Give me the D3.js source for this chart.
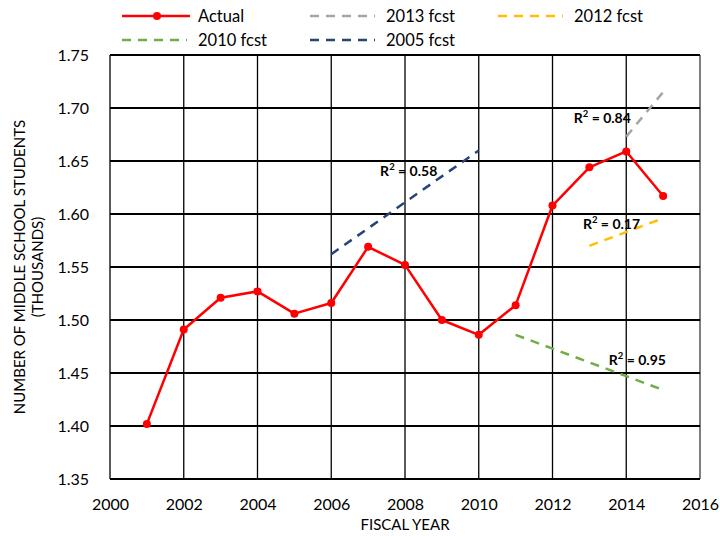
<!DOCTYPE html>
<html>
<head>
<meta charset="utf-8">
<script src="https://cdn.jsdelivr.net/npm/d3@7"></script>
<style>
html,body{margin:0;padding:0;background:#fff;}
svg{display:block;font-family:Lato,"Open Sans",sans-serif;}
</style>
</head>
<body>
<svg id="chart" width="720" height="536"></svg>
<script>
const years = [2001,2002,2003,2004,2005,2006,2007,2008,2009,2010,2011,2012,2013,2014,2015];
const actual = [1.402,1.491,1.521,1.527,1.506,1.516,1.569,1.552,1.500,1.486,1.514,1.608,1.644,1.659,1.617];
const fcst2013 = [[2014,1.673],[2015,1.715]];
const fcst2012 = [[2013,1.570],[2015,1.596]];
const fcst2010 = [[2011,1.486],[2015,1.434]];
const fcst2005 = [[2006,1.562],[2010,1.660]];
const xTicks = [2000,2002,2004,2006,2008,2010,2012,2014,2016];
const yTicks = [1.35,1.40,1.45,1.50,1.55,1.60,1.65,1.70,1.75];
const r2Labels = [
  {x:2013.35, y:1.686, v:"0.84"},
  {x:2013.6, y:1.586, v:"0.17"},
  {x:2014.3, y:1.458, v:"0.95"},
  {x:2008.1, y:1.636, v:"0.58"}
];
const legendItems = [
  {name:"Actual", color:"#FF0000", dash:null, marker:true},
  {name:"2013 fcst", color:"#A5A5A5", dash:"9,7"},
  {name:"2012 fcst", color:"#FFC000", dash:"9,7"},
  {name:"2010 fcst", color:"#70AD47", dash:"9,7"},
  {name:"2005 fcst", color:"#264478", dash:"9,7"}
];

const svg = d3.select("#chart");
const m = {left:110, right:20, top:55, bottom:57};
const W = 720, H = 536;
const x = d3.scaleLinear().domain([2000,2016]).range([m.left, W-m.right]);
const y = d3.scaleLinear().domain([1.35,1.75]).range([H-m.bottom, m.top]);

const g = svg.append("g");
// vertical grid
g.selectAll(".vg").data(xTicks).join("line")
  .attr("x1",d=>x(d)).attr("x2",d=>x(d)).attr("y1",y(1.35)).attr("y2",y(1.75))
  .attr("stroke",d=>d===2016?"#7f7f7f":"#000").attr("stroke-width",d=>d===2016?2:1.3);
// horizontal grid
g.selectAll(".hg").data(yTicks).join("line")
  .attr("x1",x(2000)).attr("x2",x(2016)).attr("y1",d=>y(d)).attr("y2",d=>y(d))
  .attr("stroke","#000").attr("stroke-width",2);

// axes labels
const xAxis = d3.axisBottom(x).tickValues(xTicks).tickFormat(d3.format("d")).tickSize(0).tickPadding(20);
const xg = svg.append("g").attr("transform",`translate(0,${y(1.35)})`).call(xAxis);
xg.select(".domain").remove();
xg.selectAll("text").attr("font-size",16).attr("fill","#000").attr("font-family","Lato,sans-serif");
const yAxis = d3.axisLeft(y).tickValues(yTicks).tickFormat(d3.format(".2f")).tickSize(0).tickPadding(21);
const yg = svg.append("g").attr("transform",`translate(${x(2000)},0)`).call(yAxis);
yg.select(".domain").remove();
yg.selectAll("text").attr("font-size",16).attr("fill","#000").attr("font-family","Lato,sans-serif");

svg.append("text").attr("x",(x(2000)+x(2016))/2).attr("y",530).attr("text-anchor","middle")
  .attr("font-size",15).text("FISCAL YEAR");
const yt = svg.append("text").attr("transform",`translate(25,${(y(1.35)+y(1.75))/2}) rotate(-90)`)
  .attr("text-anchor","middle").attr("font-size",15);
yt.append("tspan").attr("x",0).attr("dy",0).text("NUMBER OF MIDDLE SCHOOL STUDENTS");
yt.append("tspan").attr("x",0).attr("dy",18).text("(THOUSANDS)");

// forecast lines
const line = d3.line().x(d=>x(d[0])).y(d=>y(d[1]));
const fc = [[fcst2013,"#A5A5A5"],[fcst2012,"#FFC000"],[fcst2010,"#70AD47"],[fcst2005,"#264478"]];
fc.forEach(([data,c])=>{
  svg.append("path").datum(data).attr("d",line).attr("fill","none")
    .attr("stroke",c).attr("stroke-width",2.5).attr("stroke-dasharray","9,7");
});

// actual
const actData = years.map((yr,i)=>[yr,actual[i]]);
svg.append("path").datum(actData).attr("d",line).attr("fill","none")
  .attr("stroke","#FF0000").attr("stroke-width",2.5).attr("stroke-linejoin","round");
svg.selectAll(".pt").data(actData).join("circle")
  .attr("cx",d=>x(d[0])).attr("cy",d=>y(d[1])).attr("r",4).attr("fill","#FF0000");

// R2 labels
r2Labels.forEach(l=>{
  const t = svg.append("text").attr("x",x(l.x)).attr("y",y(l.y)).attr("text-anchor","middle")
    .attr("font-size",14).attr("font-weight","bold").attr("fill","#000");
  t.append("tspan").text("R");
  t.append("tspan").attr("font-size",9.5).attr("dy",-5.5).text("2");
  t.append("tspan").attr("dy",5.5).text(" = " + l.v);
});

// legend
const legPos = [[122,16],[310,16],[498,16],[122,40],[310,40]];
legendItems.forEach((it,i)=>{
  const [lx,ly] = legPos[i];
  const lg = svg.append("g").attr("transform",`translate(${lx},${ly})`);
  lg.append("line").attr("x1",0).attr("x2",it.marker?68:65).attr("y1",0).attr("y2",0)
    .attr("stroke",it.color).attr("stroke-width",2.5).attr("stroke-dasharray",it.dash);
  if(it.marker) lg.append("circle").attr("cx",35).attr("cy",0).attr("r",4).attr("fill",it.color);
  lg.append("text").attr("x",76).attr("y",6).attr("font-size",16.5).text(it.name);
});
</script>
</body>
</html>
